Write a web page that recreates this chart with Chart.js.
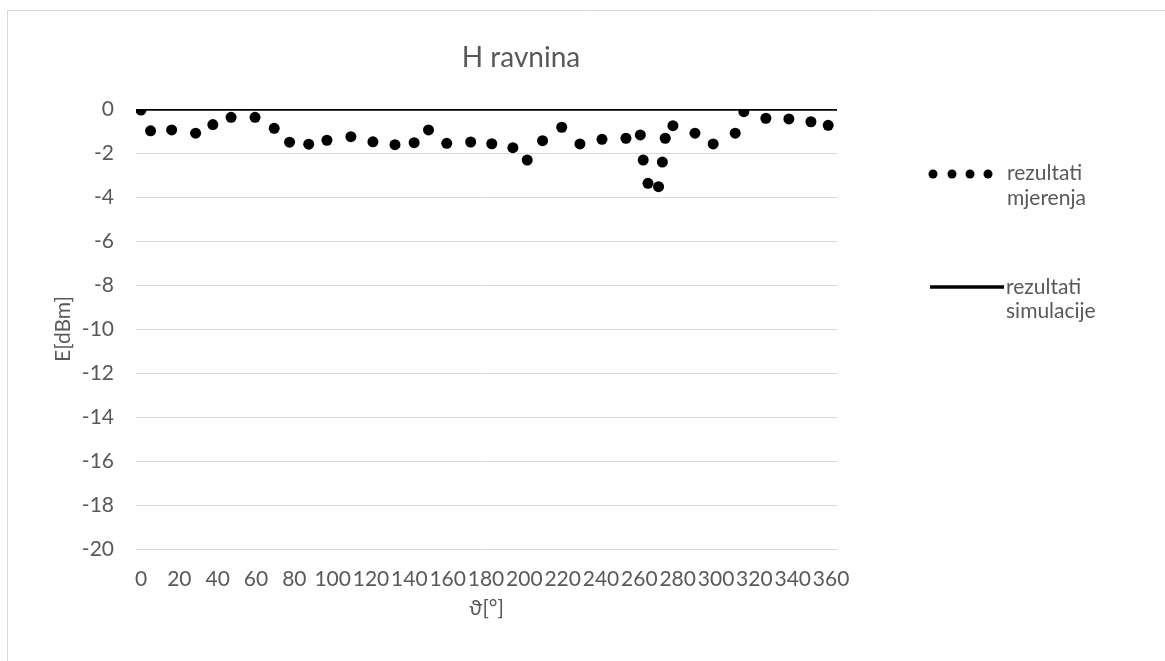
<!DOCTYPE html>
<html>
<head>
<meta charset="utf-8">
<script src="https://cdn.jsdelivr.net/npm/chart.js@4.4.1/dist/chart.umd.min.js"></script>
<style>
  html, body { margin: 0; padding: 0; background: #fff; }
  #wrap { width: 1165px; height: 661px; position: relative; }
</style>
</head>
<body>
<div id="wrap"><canvas id="chart" width="1165" height="661"></canvas></div>
<script>
// measured points (angle in degrees, field in dBm)
const measAngles = [0, 5, 16, 28.5, 37.5, 47, 59.5, 69.5, 77.5, 87.5, 97, 109.5, 121, 132.5, 142.5, 150, 159.5, 172, 183, 194,
  201.5, 209.5, 219.5, 229, 240.5, 253, 260.5, 262, 264.5, 270, 272, 273.5, 277.5, 289, 298.5, 310, 314.5, 326, 338, 349.5, 358.5];
const measValues = [-0.05, -0.99, -0.95, -1.1, -0.71, -0.38, -0.38, -0.88, -1.51, -1.6, -1.42, -1.26, -1.49, -1.62, -1.53, -0.95, -1.56, -1.5, -1.58, -1.76,
  -2.32, -1.44, -0.83, -1.59, -1.38, -1.33, -1.18, -2.32, -3.38, -3.53, -2.41, -1.33, -0.76, -1.1, -1.59, -1.1, -0.12, -0.42, -0.45, -0.58, -0.74];

// simulation is flat at 0 dBm over the whole axis
const simAngles = [-3, 364];
const simValues = [0, 0];

const xTicks = [0, 20, 40, 60, 80, 100, 120, 140, 160, 180, 200, 220, 240, 260, 280, 300, 320, 340, 360];

const chartTitle = 'H ravnina';
const xTitle = 'ϑ[°]';
const yTitle = 'E[dBm]';
const legendMeas = ['rezultati', 'mjerenja'];
const legendSim = ['rezultati', 'simulacije'];

const textColor = '#595959';
const fontFamily = 'Lato, "Noto Sans", sans-serif';

function toPoints(xs, ys) {
  return xs.map((x, i) => ({ x: x, y: ys[i] }));
}

const decorations = {
  id: 'decorations',
  beforeDraw(chart) {
    const ctx = chart.ctx;
    ctx.save();
    ctx.fillStyle = '#fff';
    ctx.fillRect(0, 0, chart.width, chart.height);
    // outer frame
    ctx.strokeStyle = '#d9d9d9';
    ctx.lineWidth = 1;
    ctx.beginPath();
    ctx.moveTo(7.5, chart.height);
    ctx.lineTo(7.5, 10.5);
    ctx.lineTo(chart.width, 10.5);
    ctx.stroke();
    ctx.restore();
  },
  afterDraw(chart) {
    const ctx = chart.ctx;
    const area = chart.chartArea;
    ctx.save();
    ctx.fillStyle = textColor;
    ctx.textBaseline = 'middle';

    ctx.font = '28px ' + fontFamily;
    ctx.textAlign = 'center';
    ctx.fillText(chartTitle, 521, 58);

    ctx.font = '21px ' + fontFamily;
    ctx.fillText(xTitle, (area.left + area.right) / 2, 608);

    ctx.save();
    ctx.translate(63, (area.top + area.bottom) / 2);
    ctx.rotate(-Math.PI / 2);
    ctx.fillText(yTitle, 0, 0);
    ctx.restore();

    // legend
    ctx.textAlign = 'left';
    ctx.fillStyle = '#000';
    [933, 952, 970, 988].forEach((x) => {
      ctx.beginPath();
      ctx.arc(x, 174, 4.5, 0, Math.PI * 2);
      ctx.fill();
    });
    ctx.strokeStyle = '#000';
    ctx.lineWidth = 3.5;
    ctx.beginPath();
    ctx.moveTo(930, 287);
    ctx.lineTo(1004, 287);
    ctx.stroke();

    ctx.fillStyle = textColor;
    ctx.fillText(legendMeas[0], 1007, 173);
    ctx.fillText(legendMeas[1], 1007, 198);
    ctx.fillText(legendSim[0], 1006, 287);
    ctx.fillText(legendSim[1], 1006, 311);
    ctx.restore();
  }
};

function drawChart() {
  const ctx = document.getElementById('chart').getContext('2d');
  const chart = new Chart(ctx, {
    type: 'scatter',
    data: {
      datasets: [
        {
          label: 'rezultati simulacije',
          data: toPoints(simAngles, simValues),
          showLine: true,
          borderColor: '#000',
          borderWidth: 3.5,
          pointRadius: 0,
          clip: 0
        },
        {
          label: 'rezultati mjerenja',
          data: toPoints(measAngles, measValues),
          showLine: false,
          backgroundColor: '#000',
          borderColor: '#000',
          pointRadius: 5.5,
          borderWidth: 0
        }
      ]
    },
    options: {
      responsive: false,
      animation: false,
      layout: { padding: { left: 0, top: 109, right: 328, bottom: 62 } },
      plugins: {
        legend: { display: false },
        title: { display: false },
        tooltip: { enabled: false }
      },
      scales: {
        x: {
          type: 'linear',
          min: -2.6,
          max: 363.1,
          afterFit: (scale) => { scale.height = 50; },
          afterBuildTicks: (scale) => { scale.ticks = xTicks.map((v) => ({ value: v })); },
          grid: { display: false, drawTicks: false },
          border: { display: false },
          ticks: {
            autoSkip: false,
            maxRotation: 0,
            padding: 18,
            color: textColor,
            font: { family: fontFamily, size: 21 }
          }
        },
        y: {
          min: -20,
          max: 0,
          afterFit: (scale) => { scale.width = 136; },
          grid: { color: '#d9d9d9', lineWidth: 1, drawTicks: false },
          border: { display: false },
          ticks: {
            stepSize: 2,
            padding: 22,
            color: textColor,
            font: { family: fontFamily, size: 21 }
          }
        }
      }
    },
    plugins: [decorations]
  });
  return chart;
}

document.addEventListener('DOMContentLoaded', () => drawChart());
</script>
</body>
</html>
